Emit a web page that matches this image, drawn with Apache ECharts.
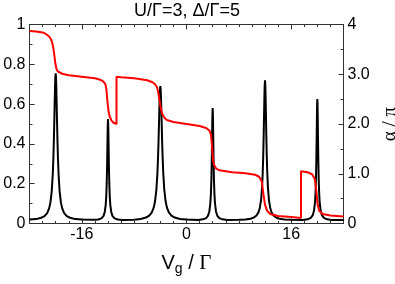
<!DOCTYPE html>
<html><head><meta charset="utf-8">
<script src="https://cdn.jsdelivr.net/npm/echarts@6/dist/echarts.min.js"></script>
<style>html,body{margin:0;padding:0;background:#fff}#c{width:395px;height:284px}</style>
</head><body><div id="c"></div>
<script>
const titleText = 'U/Γ=3, Δ/Γ=5';
const xTickLabels = [-16, 0, 16];
const leftTicks = ['0', '0.2', '0.4', '0.6', '0.8', '1'];
const rightTicks = ['0', '1.0', '2.0', '3.0', '4'];

// transmission (left axis)
const transX = [-24,-23,-22.2,-21.7,-21.3,-21,-20.8,-20.6,-20.45,-20.35,-20.27,-20.2,-20.15,-20.1,-20.05,-20,-19.95,-19.9,-19.85,-19.8,-19.73,-19.65,-19.55,-19.4,-19.2,-19,-18.7,-18.3,-17.8,-17,
 -16,-14.2,-13.5,-13,-12.7,-12.5,-12.35,-12.27,-12.2,-12.15,-12.1,-12.06,-12.03,-12,-11.97,-11.94,-11.9,-11.85,-11.8,-11.73,-11.65,-11.5,-11.3,-11,-10.5,-9.8,
 -8,-7,-6.2,-5.7,-5.3,-5,-4.8,-4.6,-4.45,-4.35,-4.27,-4.2,-4.15,-4.1,-4.05,-4,-3.95,-3.9,-3.85,-3.8,-3.73,-3.65,-3.55,-3.4,-3.2,-3,-2.7,-2.3,-1.8,-1,
 0,1.8,2.5,3,3.3,3.5,3.65,3.73,3.8,3.85,3.9,3.94,3.97,4,4.03,4.06,4.1,4.15,4.2,4.27,4.35,4.5,4.7,5,5.5,6.2,
 8,9,9.8,10.3,10.7,11,11.2,11.4,11.55,11.65,11.73,11.8,11.85,11.9,11.95,12,12.05,12.1,12.15,12.2,12.27,12.35,12.45,12.6,12.8,13,13.3,13.7,14.2,15,
 16,17.8,18.5,19,19.3,19.5,19.65,19.73,19.8,19.85,19.9,19.94,19.97,20,20.03,20.06,20.1,20.15,20.2,20.27,20.35,20.5,20.7,21,21.5,22.2,24];
const transY = [0.020,0.022,0.029,0.037,0.052,0.076,0.106,0.163,0.243,0.328,0.424,0.527,0.607,0.681,0.735,0.755,0.735,0.681,0.607,0.527,0.424,0.328,0.243,0.163,0.106,0.076,0.052,0.037,0.029,0.022,
 0.020,0.019,0.020,0.026,0.037,0.057,0.094,0.135,0.199,0.270,0.368,0.455,0.505,0.525,0.505,0.455,0.368,0.270,0.199,0.135,0.094,0.057,0.037,0.026,0.020,0.018,
 0.019,0.023,0.030,0.040,0.056,0.081,0.113,0.172,0.251,0.333,0.419,0.509,0.574,0.633,0.675,0.690,0.675,0.633,0.574,0.509,0.419,0.333,0.251,0.172,0.113,0.081,0.056,0.040,0.030,0.023,
 0.020,0.018,0.021,0.027,0.040,0.062,0.103,0.148,0.218,0.298,0.406,0.502,0.558,0.580,0.558,0.502,0.406,0.298,0.218,0.148,0.103,0.062,0.040,0.027,0.021,0.018,
 0.019,0.020,0.024,0.030,0.040,0.056,0.078,0.119,0.181,0.253,0.340,0.445,0.533,0.623,0.693,0.720,0.693,0.623,0.533,0.445,0.340,0.253,0.181,0.119,0.078,0.056,0.040,0.030,0.024,0.020,
 0.019,0.018,0.021,0.028,0.042,0.065,0.110,0.159,0.235,0.320,0.437,0.541,0.602,0.625,0.602,0.541,0.437,0.320,0.235,0.159,0.110,0.065,0.042,0.028,0.021,0.018,0.017];

// phase alpha/pi (right axis)
const phaseX = [-24,-23,-22,-21.5,-21,-20.7,-20.5,-20.35,-20.2,-20.05,-19.9,-19.7,-19.4,-19,-18,-16,-14,-13.2,-12.7,-12.4,
 -12.25,-12.12,-12,-11.9,-11.75,-11.5,-11.2,-10.7,-10.7,-10,-8,-6,-5.2,-4.8,-4.5,-4.3,-4.1,-3.9,-3.7,-3.4,-3,-2,
 0,2,3,3.5,3.75,3.9,4.05,4.2,4.5,5,7,9,10.5,11.1,11.5,11.75,12,12.3,12.8,14,16,17.5,17.5,18.5,19.2,19.6,19.85,20.05,20.3,20.8,22,24];
const phaseY = [3.87,3.86,3.84,3.81,3.76,3.70,3.62,3.52,3.38,3.22,3.12,3.06,3.03,3.01,2.98,2.95,2.92,2.89,2.85,2.80,
 2.70,2.50,2.35,2.24,2.15,2.08,2.03,2.00,2.95,2.94,2.92,2.88,2.84,2.80,2.74,2.62,2.45,2.30,2.20,2.13,2.08,2.04,
 2.00,1.96,1.92,1.87,1.78,1.55,1.30,1.18,1.11,1.07,1.03,1.01,0.98,0.94,0.85,0.60,0.38,0.26,0.19,0.15,0.13,0.11,1.05,1.03,0.99,0.90,0.65,0.38,0.25,0.19,0.16,0.14];

const FONT = '"Liberation Sans", Arial, Helvetica, sans-serif';
const trans = transX.map((x, i) => [x, transY[i]]);
const phase = phaseX.map((x, i) => [x, phaseY[i]]);
const axisCol = '#333';

function xAx(pos, major) {
  const a = {
    type: 'value', position: pos, min: -24, max: 24, interval: 2,
    axisLine: {show: !major, onZero: false, lineStyle: {color: axisCol, width: 1}},
    splitLine: {show: false},
    axisTick: {show: true, inside: true, length: major ? 5 : 2.5, lineStyle: {color: axisCol}},
    axisLabel: {show: false}
  };
  if (major) {
    a.axisTick.customValues = xTickLabels;
  }
  if (pos === 'bottom' && major) {
    a.axisLabel = {show: true, customValues: xTickLabels, margin: 3, fontSize: 16, fontFamily: FONT, color: '#000',
      formatter: v => String(v)};
    a.name = '{a|V}{s|g}{a| / }{b|Γ}';
    a.nameLocation = 'middle';
    a.nameGap = 27;
    a.nameTextStyle = {rich: {
      a: {fontSize: 20, fontFamily: FONT, color: '#000'},
      s: {fontSize: 14, fontFamily: FONT, color: '#000', padding: [12, 0, 0, 0]},
      b: {fontSize: 21, fontFamily: '"Liberation Serif", "DejaVu Serif", serif', color: '#000'}
    }};
  }
  return a;
}

const chart = echarts.init(document.getElementById('c'), null, {renderer: 'canvas'});
chart.setOption({
  animation: false,
  backgroundColor: '#fff',
  grid: {left: 29.5, right: 51.5, top: 24.5, bottom: 60.5, containLabel: false, outerBoundsMode: 'none'},
  graphic: [{type: 'text', x: 187, y: 11, style: {text: titleText, font: '18px ' + FONT, fill: '#000',
    textAlign: 'center', textVerticalAlign: 'middle'}}],
  xAxis: [xAx('bottom', false), xAx('bottom', true), xAx('top', false), xAx('top', true)],
  yAxis: [
    {type: 'value', position: 'left', min: 0, max: 1, interval: 0.2,
     axisLine: {show: true, onZero: false, lineStyle: {color: axisCol}}, splitLine: {show: false},
     axisTick: {show: true, inside: true, length: 5, lineStyle: {color: axisCol}},
     minorTick: {show: true, splitNumber: 2, length: 3, lineStyle: {color: axisCol}},
     axisLabel: {margin: 4, fontSize: 16, fontFamily: FONT, color: '#000',
       formatter: (v) => leftTicks[Math.round(v * 5)]}},
    {type: 'value', position: 'right', min: 0, max: 4, interval: 1,
     axisLine: {show: true, onZero: false, lineStyle: {color: axisCol}}, splitLine: {show: false},
     axisTick: {show: true, inside: true, length: 5, lineStyle: {color: axisCol}},
     minorTick: {show: true, splitNumber: 2, length: 3, lineStyle: {color: axisCol}},
     axisLabel: {margin: 4, fontSize: 16, fontFamily: FONT, color: '#000',
       formatter: (v) => rightTicks[Math.round(v)]},
     name: 'α / π', nameLocation: 'middle', nameRotate: 90, nameGap: 34,
     nameTextStyle: {fontSize: 19, fontFamily: '"Liberation Serif", "DejaVu Serif", serif', color: '#000'}}
  ],
  series: [
    {type: 'line', name: 'T', data: trans, xAxisIndex: 0, yAxisIndex: 0, symbol: 'none', smooth: false,
     lineStyle: {color: '#000', width: 2}, z: 2},
    {type: 'line', name: 'phase', data: phase, xAxisIndex: 0, yAxisIndex: 1, symbol: 'none', smooth: false,
     lineStyle: {color: '#ff0000', width: 2}, z: 3}
  ]
});
</script></body></html>
